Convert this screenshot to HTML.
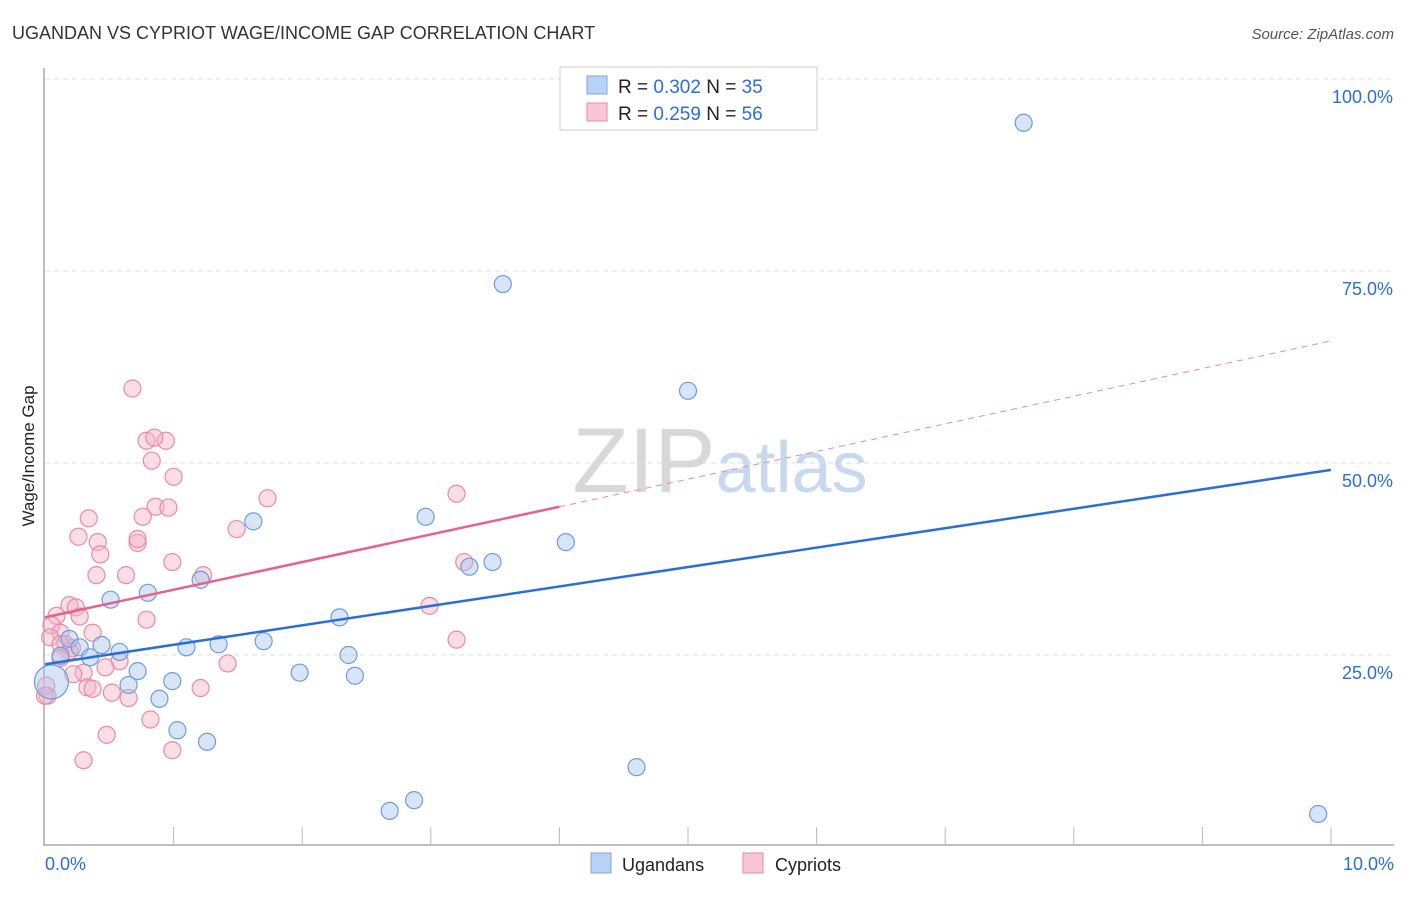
<!DOCTYPE html>
<html><head><meta charset="utf-8"><style>
body{margin:0;background:#fff;font-family:"Liberation Sans",sans-serif}
svg text{font-family:"Liberation Sans",sans-serif}
</style></head><body>
<svg id="chart" width="1406" height="892" viewBox="0 0 1406 892" xmlns="http://www.w3.org/2000/svg">
<text x="12" y="39" font-size="18" fill="#333">UGANDAN VS CYPRIOT WAGE/INCOME GAP CORRELATION CHART</text>
<text x="1394" y="39" font-size="15" fill="#555" text-anchor="end" font-style="italic">Source: ZipAtlas.com</text>
<text x="720" y="492" font-size="92" text-anchor="middle" fill="#ddd" font-family="Liberation Serif"><tspan fill="#d8d8d8">ZIP</tspan><tspan fill="#c8d8ef" font-family="Liberation Sans" font-size="72">atlas</tspan></text>
<text transform="translate(34,456) rotate(-90)" font-size="17" fill="#222" text-anchor="middle">Wage/Income Gap</text>
<g id="grid"></g>
<g id="axes"></g>
<g id="marks"></g>
<g>
<rect x="560" y="67" width="257" height="63" fill="#fff" stroke="#ccc"/>
<rect x="587" y="76" width="20" height="18" fill="#b8d2f5" stroke="#7fa6e0"/>
<text x="618" y="93" font-size="19" fill="#222">R = <tspan fill="#2a6ed8">0.302</tspan>   N = <tspan fill="#2a6ed8">35</tspan></text>
<rect x="587" y="103" width="20" height="18" fill="#f9c6d4" stroke="#e88aa8"/>
<text x="618" y="120" font-size="19" fill="#222">R = <tspan fill="#2a6ed8">0.259</tspan>   N = <tspan fill="#2a6ed8">56</tspan></text>
</g>
<g>
<rect x="591" y="853" width="20" height="20" fill="#b8d2f5" stroke="#7fa6e0"/>
<text x="622" y="871" font-size="18" fill="#222">Ugandans</text>
<rect x="743" y="853" width="20" height="20" fill="#f9c6d4" stroke="#e88aa8"/>
<text x="775" y="871" font-size="18" fill="#222">Cypriots</text>
</g>
</svg>
<script>
const yTicks=[25,50,75,100];
const yTickLabels=["25.0%","50.0%","75.0%","100.0%"];
const xTickLabels=["0.0%","10.0%"];
const ugX=[7.61,3.56,5.0,1.62,2.96,4.05,3.48,3.30,1.21,0.80,0.51,2.29,0.19,0.44,0.27,1.10,1.35,1.70,0.58,0.12,0.35,2.36,0.72,1.98,2.41,0.99,0.65,0.89,1.03,1.26,4.60,2.87,2.68,9.90,0.05];
const ugY=[94.3,73.3,59.4,42.4,43.0,39.7,37.1,36.5,34.8,33.1,32.2,29.9,27.1,26.3,26.0,26.0,26.4,26.8,25.4,24.9,24.7,25.0,22.9,22.7,22.3,21.6,21.1,19.3,15.2,13.7,10.4,6.1,4.7,4.3,21.5];
const cyX=[0.68,0.79,0.94,0.85,0.83,1.0,1.73,3.20,0.86,0.96,0.76,0.34,1.49,0.26,0.72,0.72,0.41,0.43,0.99,3.26,0.40,0.63,1.23,0.19,0.24,0.09,0.27,0.79,2.99,0.05,0.37,0.12,0.04,0.16,3.20,0.21,0.19,0.12,0.58,1.42,0.47,0.30,0.22,0.33,0.37,1.21,0.52,0.65,0.02,0.82,0.48,0.99,0.30,0.01,0.0,0.12];
const cyY=[59.7,52.9,52.9,53.3,50.3,48.2,45.4,46.0,44.3,44.2,43.0,42.8,41.4,40.4,39.6,40.1,39.7,38.1,37.1,37.1,35.4,35.4,35.4,31.5,31.2,30.1,30.0,29.6,31.4,28.9,27.9,27.9,27.3,26.4,27.0,25.9,25.5,26.4,24.2,23.9,23.4,22.7,22.5,20.8,20.6,20.7,20.1,19.4,19.7,16.6,14.6,12.6,11.3,21.0,19.7,24.6];
const X=v=>45+v*128.6, Y=v=>847-v*7.68;
const NS="http://www.w3.org/2000/svg";
function mk(t,a,p){const e=document.createElementNS(NS,t);for(const k in a)e.setAttribute(k,a[k]);p.appendChild(e);return e;}
const grid=document.getElementById('grid'),axes=document.getElementById('axes'),marks=document.getElementById('marks');
yTicks.forEach((t,i)=>{
 const l=mk('line',{x1:45,x2:1394,y1:Y(t),y2:Y(t),stroke:'#ddd','stroke-dasharray':'5,4'},grid);
 
 
 const tx=mk('text',{x:1393,y:Y(t)+24,'font-size':18,fill:'#2a6ed8','text-anchor':'end'},axes);
 tx.textContent=yTickLabels[i];
 
 
});
const ya=mk('line',{x1:44,x2:44,y1:68,y2:846,stroke:'#aaa','stroke-width':1.5},axes);


const xa=mk('line',{x1:44,x2:1394,y1:845,y2:845,stroke:'#aaa','stroke-width':1.5},axes);


for(let i=1;i<=10;i++){const t=mk('line',{x1:X(i),x2:X(i),y1:827,y2:845,stroke:'#bbb'},axes);
 
 }
[[0,'start',45],[10,'end',1394]].forEach((d,i)=>{const t=mk('text',{x:d[2],y:870,'font-size':18,fill:'#2a6ed8','text-anchor':d[1]},axes);t.textContent=xTickLabels[i];
 
 });
cyX.forEach((v,i)=>{const c=mk('circle',{cx:X(v),cy:Y(cyY[i]),r:8.5,fill:'#f5b3c6','fill-opacity':0.45,stroke:'#e88aa8','stroke-width':1.2},marks);
 
 });
ugX.forEach((v,i)=>{const c=mk('circle',{cx:X(v),cy:Y(ugY[i]),r:i==ugX.length-1?17:8.5,fill:'#a9c6ee','fill-opacity':0.45,stroke:'#6e9be0','stroke-width':1.2},marks);
 
 });
function fit(xs,ys){const n=xs.length,mx=xs.reduce((a,b)=>a+b)/n,my=ys.reduce((a,b)=>a+b)/n;let sxy=0,sxx=0;xs.forEach((x,i)=>{sxy+=(x-mx)*(ys[i]-my);sxx+=(x-mx)**2});const b=sxy/sxx;return [my-b*mx,b];}
// reference trend lines
const ugTrend=[23.8,2.53], cyTrend=[29.9,3.6];
const bl=mk('line',{x1:X(0),y1:Y(ugTrend[0]),x2:X(10),y2:Y(ugTrend[0]+ugTrend[1]*10),stroke:'#2a6ed8','stroke-width':2.5},marks);


const pl=mk('line',{x1:X(0),y1:Y(cyTrend[0]),x2:X(4),y2:Y(cyTrend[0]+cyTrend[1]*4),stroke:'#e8608c','stroke-width':2.5},marks);


const pd=mk('line',{x1:X(4),y1:Y(cyTrend[0]+cyTrend[1]*4),x2:X(10),y2:Y(cyTrend[0]+cyTrend[1]*10),stroke:'#e88aa8','stroke-width':1,'stroke-dasharray':'6,5'},marks);


</script>
</body></html>
